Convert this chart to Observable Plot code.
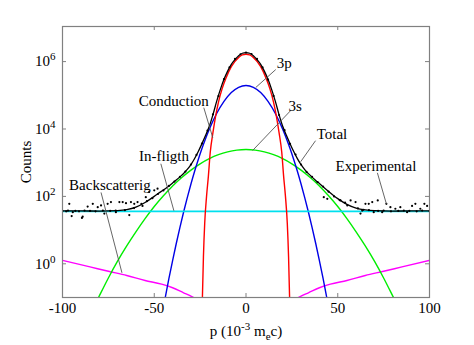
<!DOCTYPE html>
<html>
<head>
<meta charset="utf-8">
<script src="https://cdn.jsdelivr.net/npm/d3@7"></script>
<script src="https://cdn.jsdelivr.net/npm/@observablehq/plot@0.6"></script>
<style>
  html, body { margin: 0; padding: 0; background: white; }
  #chart svg { display: block; }
</style>
</head>
<body>
<div id="chart"></div>
<script>
// ---- Data ----
const xTicks = [-100, -50, 0, 50, 100];
const yTicks = [1, 100, 1e4, 1e6];

// Conduction (red)
const condP = [-23.8,-23.2,-22.5,-21.5,-20.5,-19.5,-18,-16.5,-15,-13,-11,-8,-4,-2,0,2,4,8,11,13,15,16.5,18,19.5,20.5,21.5,22.5,23.2,23.8];
const condC = [0.08,1.6,16,100,400,2000,7900,25000,63000,158000,316000,708000,1320000,1580000,1660000,1580000,1320000,708000,316000,158000,63000,25000,7900,2000,400,100,16,1.6,0.08];

// 3p (blue)
const p3pP = [-46,-44,-42,-40,-38,-36,-34,-32,-30,-28,-26,-24,-22,-20,-16,-12,-8,-4,0,4,8,12,16,20,22,24,26,28,30,32,34,36,38,40,42,44,46];
const p3pC = [0.025,0.1,0.37,1.24,4,12.1,34.4,92,233,556,1245,2630,5240,9800,28800,66000,121000,173000,195000,173000,121000,66000,28800,9800,5240,2630,1245,556,233,92,34.4,12.1,4,1.24,0.37,0.1,0.025];

// 3s (green)
const s3sP = [-85,-80,-75,-70,-65,-60,-55,-50,-45,-40,-35,-30,-25,-20,-15,-10,-5,0,5,10,15,20,25,30,35,40,45,50,55,60,65,70,75,80,85];
const s3sC = [0.031,0.11,0.38,1.2,3.4,8.9,21.9,50,104,204,363,603,927,1318,1730,2100,2360,2455,2360,2100,1730,1318,927,603,363,204,104,50,21.9,8.9,3.4,1.2,0.38,0.11,0.031];

// In-flight (cyan)
const flightP = [-100,-50,0,50,100];
const flightC = [36,36,36,36,36];

// Backscattering (magenta), two branches
const backP = [-100,-85,-75,-65,-55,-46,-40,-34,-30,-28,-27, 27,28,30,34,40,46,55,65,75,85,100];
const backC = [1.26,0.81,0.60,0.45,0.32,0.25,0.195,0.138,0.11,0.095,0.085, 0.085,0.095,0.11,0.138,0.195,0.25,0.32,0.45,0.60,0.81,1.26];
const backSide = ["L","L","L","L","L","L","L","L","L","L","L","R","R","R","R","R","R","R","R","R","R","R"];

// Total (black)
const totP = [-100,-90,-80,-70,-65,-60,-55,-50,-48,-45,-42,-40,-38,-36,-34,-32,-30,-28,-26,-24,-22,-20,-18,-16,-14,-12,-10,-8,-6,-4,-2,0,2,4,6,8,10,12,14,16,18,20,22,24,26,28,30,32,34,36,38,40,42,45,48,50,55,60,65,70,80,90,100];
const totC = [37.3,37,36.8,38,40.5,48,66,100,120,155,205,250,305,380,480,630,880,1330,2150,3680,6500,12000,26700,66000,147000,297000,521000,831000,1150000,1495000,1770000,1857000,1770000,1495000,1150000,831000,521000,297000,147000,66000,26700,12000,6500,3670,2140,1320,872,625,474,373,298,241,193,140,103,86,58,45,39.8,37.7,36.8,37,37.3];

// Experimental (dots)
const expP = [-100,-98,-97,-96.3,-95,-94.4,-93,-91,-89.4,-89,-88,-86.3,-85,-83.5,-82,-80.8,-79,-78,-77.2,-75.4,-74,-73.6,-71,-70.9,-69,-67.2,-66,-65.4,-63.6,-62.7,-61,-60.9,-59.1,-57,-56.4,-54.6,-54,-52.8,-51,-50,-48.2,-48,-45,-42,-39,-36,-33,-30,-27,-24,-21,-18,-15,-12,-9,-6,-3,0,3,6,9,12,15,18,21,24,27,30,33,36,39,42,42.4,44.3,45,48,51,51.5,54,55.2,57,59.7,61,62.4,63.3,64,65.1,66.9,67,68.8,69.6,71.8,72,74.2,75,76.5,78.7,79,81.4,83,84.1,86,87.8,89,90.5,92.3,93,95,96,97.2,98.7,100];
const expC = [37,36,38,60,26,34,37,36,23,25,38,50,37,60,36,48,54,38,31,60,37,68,38,34,68,68,39,63,28,68,45,60,68,60,52,95,72,135,88,151,170,118,150,205,275,380,545,880,1700,3700,9000,27000,95000,300000,680000,1200000,1650000,1850000,1680000,1200000,670000,290000,96000,26000,9200,3600,1750,880,530,380,265,195,95,85,138,100,78,76,65,54,76,68,44,31,38,40,60,60,39,68,34,76,37,34,38,60,48,36,43,37,48,38,34,37,52,60,36,43,38,60,52,37];

// Annotation labels and leader lines
const labText = ["Conduction","3p","3s","Total","Experimental","In-fligth","Backscatterig"];
const labP = [-58.4, 16.7, 23.2, 38.5, 48.8, -58.3, -96.4];
const labC = [69000, 870000, 46000, 7200, 810, 1600, 210];
const leadP1 = [-23.0, 16.2, 24.3, 37.9, 71.6, -46.4, -79.0];
const leadC1 = [43000, 580000, 35000, 4500, 500, 930, 131];
const leadP2 = [-18.1, 5.3, 3.6, 29.8, 76.5, -39.3, -67.6];
const leadC2 = [5500, 170000, 2300, 1070, 60, 37.6, 0.54];

// ---- Build tables for the library ----
const zip = (xs, ys, extra) => xs.map((x, i) => ({x, y: ys[i], z: extra ? extra[i] : "a"}));
const cond = zip(condP, condC);
const p3p = zip(p3pP, p3pC);
const s3s = zip(s3sP, s3sC);
const flight = zip(flightP, flightC);
const back = zip(backP, backC, backSide);
const total = zip(totP, totC);
const exp = zip(expP, expC);
const labels = labText.map((t, i) => ({t, x: labP[i], y: labC[i]}));
const leads = labText.map((t, i) => ({x1: leadP1[i], y1: leadC1[i], x2: leadP2[i], y2: leadC2[i]}));

const frameGray = "#808080";
const lw = 1.4;

const chart = Plot.plot({
  width: 474,
  height: 345,
  marginLeft: 62,
  marginRight: 45,
  marginTop: 26,
  marginBottom: 48,
  style: {fontFamily: "'Liberation Serif', 'Times New Roman', serif", fontSize: "15px", background: "white", color: "black", overflow: "visible"},
  x: {domain: [-100, 100]},
  y: {type: "log", domain: [0.1, 1.1e7]},
  marks: [
    Plot.line(back, {x: "x", y: "y", z: "z", stroke: "#ff00ff", strokeWidth: lw, curve: "monotone-x", clip: true}),
    Plot.line(s3s, {x: "x", y: "y", stroke: "#00ee00", strokeWidth: lw, curve: "monotone-x", clip: true}),
    Plot.line(p3p, {x: "x", y: "y", stroke: "#0000e6", strokeWidth: lw, curve: "monotone-x", clip: true}),
    Plot.line(flight, {x: "x", y: "y", stroke: "#00e0ee", strokeWidth: 1.8, clip: true}),
    Plot.line(cond, {x: "x", y: "y", stroke: "#ff0000", strokeWidth: lw, curve: "monotone-x", clip: true}),
    Plot.line(total, {x: "x", y: "y", stroke: "black", strokeWidth: 1.3, curve: "monotone-x", clip: true}),
    Plot.dot(exp, {x: "x", y: "y", r: 1.1, fill: "black", stroke: "none", clip: true}),
    Plot.link(leads, {x1: "x1", y1: "y1", x2: "x2", y2: "y2", stroke: "#555", strokeWidth: 0.9}),
    Plot.text(labels, {x: "x", y: "y", text: "t", textAnchor: "start", fontSize: 15, fill: "black"}),
    Plot.frame({stroke: frameGray, strokeWidth: 1.2}),
    Plot.tickX(xTicks, {x: d => d, insetTop: 267, stroke: frameGray}),
    Plot.tickX(xTicks, {x: d => d, insetBottom: 267, stroke: frameGray}),
    Plot.tickY(yTicks, {y: d => d, insetRight: 363, stroke: frameGray}),
    Plot.tickY(yTicks, {y: d => d, insetLeft: 363, stroke: frameGray}),
    Plot.axisX(xTicks, {tickSize: 0, tickPadding: 5, fontSize: 15, tickFormat: d => String(d), label: "p (10^{-3} m_{e}c)", labelAnchor: "center", labelArrow: "none", labelOffset: 38}),
    Plot.axisY(yTicks, {tickSize: 0, tickPadding: 7, fontSize: 15, tickFormat: d => "10^{" + Math.round(Math.log10(d)) + "}", label: "Counts", labelAnchor: "center", labelArrow: "none", labelOffset: 42})
  ]
});
document.getElementById("chart").appendChild(chart);

// Render ^{...} and _{...} markup as raised / lowered tspans
d3.select(chart).selectAll("text").each(function() {
  const el = d3.select(this);
  const s = this.textContent;
  if (!/[\^_]\{/.test(s) || this.querySelector("tspan")) return;
  el.text(null);
  const re = /([\^_])\{([^}]*)\}/g;
  let last = 0, m, shift = 0;
  while ((m = re.exec(s))) {
    if (m.index > last) el.append("tspan").attr("dy", -shift).text(s.slice(last, m.index)), shift = 0;
    const up = m[1] === "^";
    const d = up ? -6 : 4;
    el.append("tspan").attr("dy", d - shift).attr("font-size", 11).text(m[2]);
    shift = d;
    last = re.lastIndex;
  }
  if (last < s.length) el.append("tspan").attr("dy", -shift).text(s.slice(last));
});
</script>
</body>
</html>
